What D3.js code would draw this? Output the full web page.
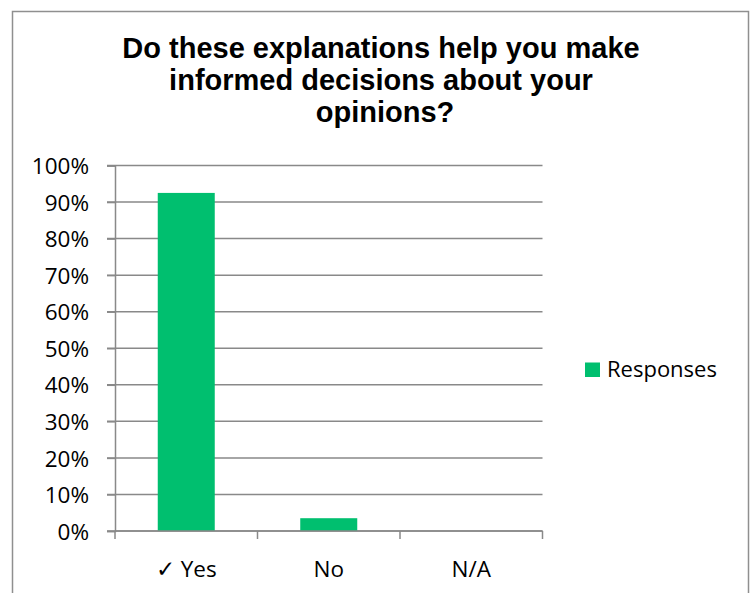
<!DOCTYPE html>
<html>
<head>
<meta charset="utf-8">
<script src="https://cdn.jsdelivr.net/npm/d3@7/dist/d3.min.js"></script>
<style>
  html, body { margin: 0; padding: 0; background: #fff; }
  svg { display: block; }
</style>
</head>
<body>
<svg id="chart" width="751" height="593"></svg>
<script>
// ---- data ----
const titleLines = ["Do these explanations help you make", "informed decisions about your", "opinions?"];
const categories = ["\u2713 Yes", "No", "N/A"];
const values = [0.925, 0.035, 0];
const seriesName = "Responses";
const yTicks = [0, 0.1, 0.2, 0.3, 0.4, 0.5, 0.6, 0.7, 0.8, 0.9, 1.0];

// ---- layout ----
const W = 751, H = 593;
const plot = { left: 115, right: 542.5, top: 165.5, bottom: 531 };
const gridColor = "#898989";
const barColor = "#00BF6F";
const font = "'Open Sans', sans-serif";

const svg = d3.select("#chart");

// outer chart border (bottom runs off the picture)
svg.append("rect")
  .attr("x", 12.5).attr("y", 11.5)
  .attr("width", 736).attr("height", 620)
  .attr("fill", "#fff")
  .attr("stroke", "#8f8f8f").attr("stroke-width", 1.5);

// title
svg.append("g").selectAll("text")
  .data(titleLines)
  .join("text")
  .attr("x", (d, i) => i === 2 ? 385 : 381)
  .attr("y", (d, i) => 57.5 + i * 32)
  .attr("text-anchor", "middle")
  .attr("font-family", "'Liberation Sans', Arial, sans-serif")
  .attr("font-weight", "bold")
  .attr("font-size", 29)
  .attr("fill", "#000")
  .text(d => d);

// scales
const x = d3.scaleBand().domain(categories).range([plot.left, plot.right]).padding(0);
const y = d3.scaleLinear().domain([0, 1]).range([plot.bottom, plot.top]);

// gridlines
svg.append("g").selectAll("line")
  .data(yTicks)
  .join("line")
  .attr("x1", plot.left - 8).attr("x2", plot.right)
  .attr("y1", d => y(d)).attr("y2", d => y(d))
  .attr("stroke", gridColor).attr("stroke-width", 1.5);

// y axis
const yAxis = svg.append("g")
  .attr("transform", `translate(${plot.left},0)`)
  .call(d3.axisLeft(y).tickValues(yTicks).tickFormat(d3.format(".0%")).tickSize(8).tickPadding(18));
yAxis.select(".domain").attr("stroke", gridColor).attr("stroke-width", 1.5);
yAxis.selectAll(".tick line").attr("stroke", gridColor).attr("stroke-width", 1.5);
yAxis.selectAll(".tick text")
  .attr("font-family", font).attr("font-size", 22.5).attr("fill", "#000")
  .attr("dy", "0.36em");

// bars
const barFrac = 0.4;
svg.append("g").selectAll("rect")
  .data(categories.map((c, i) => ({ c, v: values[i] })))
  .join("rect")
  .attr("x", d => x(d.c) + x.bandwidth() * (1 - barFrac) / 2)
  .attr("width", x.bandwidth() * barFrac)
  .attr("y", d => y(d.v))
  .attr("height", d => y(0) - y(d.v))
  .attr("fill", barColor);

// x axis line and boundary ticks
const boundaries = categories.map(c => x(c)).concat([x(categories[categories.length - 1]) + x.bandwidth()]);
svg.append("line")
  .attr("x1", plot.left).attr("x2", plot.right)
  .attr("y1", plot.bottom).attr("y2", plot.bottom)
  .attr("stroke", gridColor).attr("stroke-width", 1.5);
svg.append("g").selectAll("line")
  .data(boundaries)
  .join("line")
  .attr("x1", d => d).attr("x2", d => d)
  .attr("y1", plot.bottom).attr("y2", plot.bottom + 8)
  .attr("stroke", gridColor).attr("stroke-width", 1.5);

// x axis labels
const xAxis = svg.append("g")
  .attr("transform", `translate(0,${plot.bottom})`)
  .call(d3.axisBottom(x).tickSize(0).tickPadding(30));
xAxis.select(".domain").remove();
xAxis.selectAll(".tick text")
  .attr("font-family", font).attr("font-size", 22.5).attr("fill", "#000");

// legend
const lg = svg.append("g").attr("transform", "translate(585,362.5)");
lg.append("rect").attr("width", 15).attr("height", 14.5).attr("fill", barColor);
lg.append("text")
  .attr("x", 22).attr("y", 14.3)
  .attr("font-family", font).attr("font-size", 22).attr("fill", "#000")
  .text(seriesName);
</script>
</body>
</html>
